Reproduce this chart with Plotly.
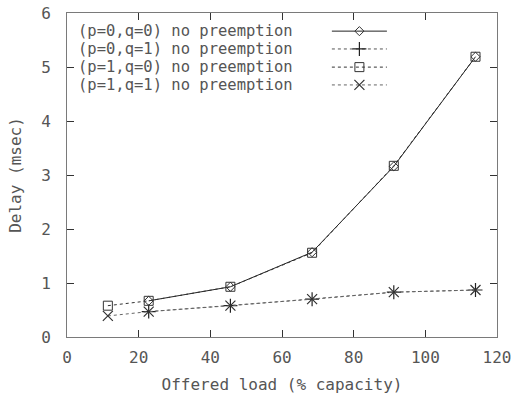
import plotly.graph_objects as go

# ---- data ----
load_p1 = [11.4, 22.8, 45.6, 68.4, 91.2, 114.0]
load_p0 = [22.8, 45.6, 68.4, 91.2, 114.0]
delay_p0q0 = [0.67, 0.93, 1.57, 3.16, 5.19]
delay_p0q1 = [0.47, 0.58, 0.70, 0.83, 0.87]
delay_p1q0 = [0.58, 0.67, 0.93, 1.56, 3.17, 5.19]
delay_p1q1 = [0.39, 0.47, 0.58, 0.70, 0.83, 0.87]
series_names = ["(p=0,q=0) no preemption", "(p=0,q=1) no preemption",
                "(p=1,q=0) no preemption", "(p=1,q=1) no preemption"]
x_ticks = [0, 20, 40, 60, 80, 100, 120]
y_ticks = [0, 1, 2, 3, 4, 5, 6]

FONT = "DejaVu Sans Mono"
FS = 16
LFS = 15.5
TXT = "#555555"
AX = "#7a7a7a"

styles = [
    dict(line=dict(color="#222222", width=1, dash="solid"),
         marker=dict(symbol="diamond-open", size=7, color="#333333", line=dict(width=1))),
    dict(line=dict(color="#555555", width=1, dash="dot"),
         marker=dict(symbol="cross-thin-open", size=10, color="#222222", line=dict(width=1.2, color="#222222"))),
    dict(line=dict(color="#333333", width=1, dash="dot"),
         marker=dict(symbol="square-open", size=9, color="#333333", line=dict(width=1))),
    dict(line=dict(color="#666666", width=1, dash="dot"),
         marker=dict(symbol="x-thin-open", size=10, color="#333333", line=dict(width=1.2, color="#333333"))),
]

xs = [load_p0, load_p0, load_p1, load_p1]
ys = [delay_p0q0, delay_p0q1, delay_p1q0, delay_p1q1]

fig = go.Figure()
for name, x, y, st in zip(series_names, xs, ys, styles):
    fig.add_trace(go.Scatter(x=x, y=y, mode="lines+markers", name=name,
                             line=st["line"], marker=st["marker"], showlegend=False))

# manual gnuplot-style legend (text left, sample right) on an overlay axis
row_y = [0.944, 0.889, 0.833, 0.778]
for name, st, ry in zip(series_names, styles, row_y):
    fig.add_trace(go.Scatter(x=[0.616, 0.744], y=[ry, ry], mode="lines", line=st["line"],
                             xaxis="x2", yaxis="y2", showlegend=False, hoverinfo="skip"))
    fig.add_trace(go.Scatter(x=[0.68], y=[ry], mode="markers", marker=st["marker"],
                             xaxis="x2", yaxis="y2", showlegend=False, hoverinfo="skip"))
    fig.add_annotation(x=0.022, y=ry, xref="x2", yref="y2", text=name, showarrow=False,
                       xanchor="left", yanchor="middle",
                       font=dict(family=FONT, size=LFS, color=TXT))

fig.update_layout(
    width=517, height=397,
    margin=dict(l=67, r=20, t=13, b=60),
    paper_bgcolor="white", plot_bgcolor="white",
    font=dict(family=FONT, size=FS, color=TXT),
    xaxis=dict(range=[0, 120], tickvals=x_ticks, ticks="inside", ticklen=7, tickcolor="#333333",
               mirror="ticks", showline=True, linecolor=AX, linewidth=1, showgrid=False,
               zeroline=False, ticklabelstandoff=6, automargin=False,
               title=dict(text="Offered load (% capacity)", standoff=12,
                          font=dict(family=FONT, size=FS, color=TXT))),
    yaxis=dict(range=[0, 6], tickvals=y_ticks, ticks="inside", ticklen=7, tickcolor="#333333",
               mirror="ticks", showline=True, linecolor=AX, linewidth=1, showgrid=False,
               zeroline=False, ticklabelstandoff=12, automargin=False,
               title=dict(text="Delay (msec)", standoff=15,
                          font=dict(family=FONT, size=FS, color=TXT))),
    xaxis2=dict(range=[0, 1], overlaying="x", visible=False, fixedrange=True),
    yaxis2=dict(range=[0, 1], overlaying="y", visible=False, fixedrange=True),
)

fig.write_html("out.html", config={"displayModeBar": False},
               post_script="document.body.style.margin='0';")
